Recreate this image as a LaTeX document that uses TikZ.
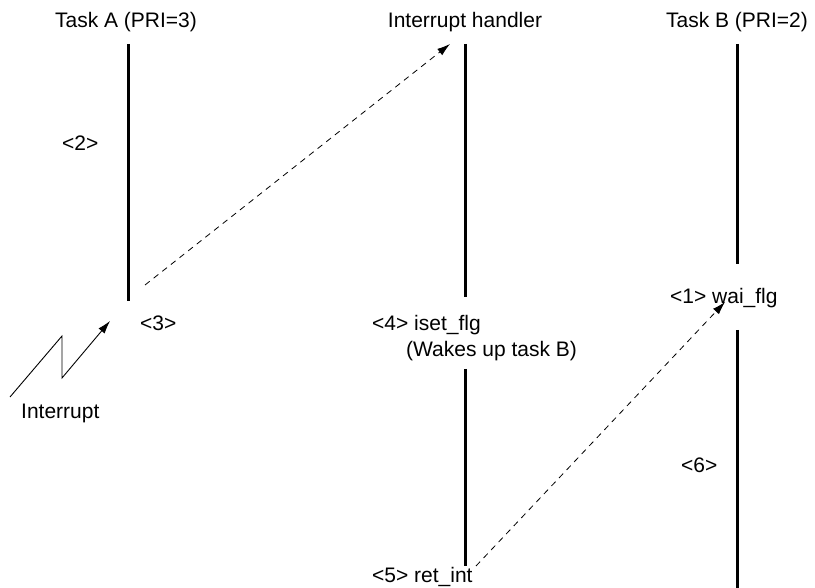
\documentclass[tikz,border=0pt]{standalone}
\usepackage{fontspec}
\setmainfont{Liberation Sans}
\usetikzlibrary{arrows.meta}
\begin{document}
\begin{tikzpicture}[x=1pt,y=-1pt,
  lbl/.style={font=\fontsize{21}{25}\selectfont, inner sep=0pt},
  life/.style={line width=3pt},
  msg/.style={dashed, dash pattern=on 6pt off 5pt, line width=0.8pt, -{Latex[length=13pt,width=8pt]}},
  intr/.style={line width=0.9pt, -{Latex[length=13pt,width=8pt]}}]
\useasboundingbox (0,0) rectangle (815,588);
% titles
\node[lbl, anchor=base] (ta) at (126,28) {Task A (PRI=3)};
\node[lbl, anchor=base] (ih) at (465,28) {Interrupt handler};
\node[lbl, anchor=base] (tb) at (737,28) {Task B (PRI=2)};
% lifelines
\coordinate (a1) at (128,44); \coordinate (a2) at (128,301);
\coordinate (h1) at (465,44); \coordinate (h2) at (465,297);
\coordinate (h3) at (465,369); \coordinate (h4) at (465,566);
\coordinate (b1) at (737,44); \coordinate (b2) at (737,264);
\coordinate (b3) at (737,330); \coordinate (b4) at (737,588);
\draw[life] (a1) -- (a2);
\draw[life] (h1) -- (h2);
\draw[life] (h3) -- (h4);
\draw[life] (b1) -- (b2);
\draw[life] (b3) -- (b4);
% labels
\node[lbl, anchor=base west] (l2) at (62,151) {<2>};
\node[lbl, anchor=base west] (l3) at (140,331) {<3>};
\node[lbl, anchor=base west] (l4) at (372,331) {<4> iset\_flg};
\node[lbl, anchor=base west] (l4b) at (406,357) {(Wakes up task B)};
\node[lbl, anchor=base west] (l1) at (670,304) {<1> wai\_flg};
\node[lbl, anchor=base west] (l6) at (681,472) {<6>};
\node[lbl, anchor=base west] (l5) at (372,582) {<5> ret\_int};
\node[lbl, anchor=base west] (li) at (21,418) {Interrupt};
% messages
\coordinate (m1s) at (145,285); \coordinate (m1e) at (450,44);
\draw[msg] (m1s) -- (m1e);
\coordinate (m2s) at (476,566); \coordinate (m2e) at (725,302);
\draw[msg] (m2s) -- (m2e);
% interrupt zigzag
\coordinate (z0) at (10,397); \coordinate (z1) at (62,336);
\coordinate (z2) at (62,378); \coordinate (z3) at (110,321);
\draw[intr] (z0) -- (z1) -- (z2) -- (z3);
\end{tikzpicture}
\end{document}
